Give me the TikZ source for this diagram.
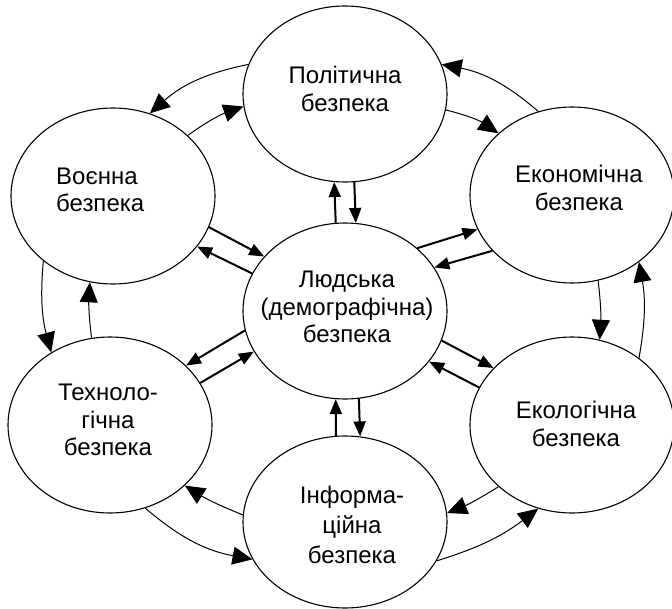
\documentclass[tikz,border=0pt]{standalone}
\usepackage{fontspec}
\setmainfont{Liberation Sans}
\usetikzlibrary{shapes.geometric,arrows.meta}
\begin{document}
\begin{tikzpicture}[x=1pt,y=-1pt,
  ell/.style={ellipse,draw,line width=1.1pt,minimum width=204pt,minimum height=176pt,inner sep=0pt},
  lbl/.style={font=\fontsize{24}{27.5}\selectfont,align=center,inner sep=0pt},
  ring/.style={line width=1pt,-{Triangle[length=20pt,width=18pt]}},
  spoke/.style={line width=2pt,-{Triangle[length=15pt,width=12pt]}}]
\useasboundingbox (0,0) rectangle (672,608);
% ellipses
\node[ell] (pol)  at (345,94)  {};
\node[ell] (voen) at (113,196) {};
\node[ell] (ekon) at (572,195) {};
\node[ell] (hum)  at (345,311) {};
\node[ell] (tech) at (110,425) {};
\node[ell] (ekol) at (572,425) {};
\node[ell,minimum height=172pt] (inf) at (345,522) {};
% labels
\node[lbl] (tpol) at (345,89) {Політична\\безпека};
\node[lbl,align=left,anchor=west] (tvoen) at (56,190) {Воєнна\\безпека};
\node[lbl] (tekon) at (579,188) {Економічна\\безпека};
\node[lbl] (thum) at (347,307) {Людська\\(демографічна)\\безпека};
\node[lbl] (ttech) at (108,420) {Техноло-\\гічна\\безпека};
\node[lbl] (tekol) at (576,424) {Екологічна\\безпека};
\node[lbl,font=\fontsize{24}{30}\selectfont] (tinf) at (352,525) {Інформа-\\ційна\\безпека};
% spokes
\draw[spoke] (hum.96.6) -- (pol.263.7);
\draw[spoke] (pol.276.3) -- (hum.83.4);
\draw[spoke] (inf.96) -- (hum.264);
\draw[spoke] (hum.279.8) -- (inf.80.1);
\draw[spoke] (voen.342.8) -- (hum.146.8);
\draw[spoke] (hum.158.8) -- (voen.329.4);
\draw[spoke] (hum.41.2) -- (ekon.200);
\draw[spoke] (ekon.215.5) -- (hum.26.8);
\draw[spoke] (hum.191.9) -- (tech.38.5);
\draw[spoke] (tech.25) -- (hum.204);
\draw[spoke] (hum.343.4) -- (ekol.144.8);
\draw[spoke] (ekol.158.7) -- (hum.329.7);
% outer ring
\draw[ring] (pol.163) to[bend right=15] (voen.66);
\draw[ring] (voen.39.3) to[bend left=8] (pol.187.3);
\draw[ring] (ekon.112) to[bend right=15] (pol.17.9);
\draw[ring] (pol.351.7) to[bend left=10] (ekon.140);
\draw[ring] (ekon.287.6) to[bend left=5] (ekol.72);
\draw[ring] (ekol.45.9) to[bend right=10] (ekon.315.4);
\draw[ring] (ekol.220.8) to[bend left=5] (inf.5);
\draw[ring] (inf.337.6) to[bend right=10] (ekol.248.6);
\draw[ring] (inf.176) to[bend left=5] (tech.321.6);
\draw[ring] (tech.293.6) to[bend right=15] (inf.202.2);
\draw[ring] (voen.223.6) to[bend right=10] (tech.129.4);
\draw[ring] (tech.102.8) to[bend left=5] (voen.255);
\end{tikzpicture}
\end{document}
